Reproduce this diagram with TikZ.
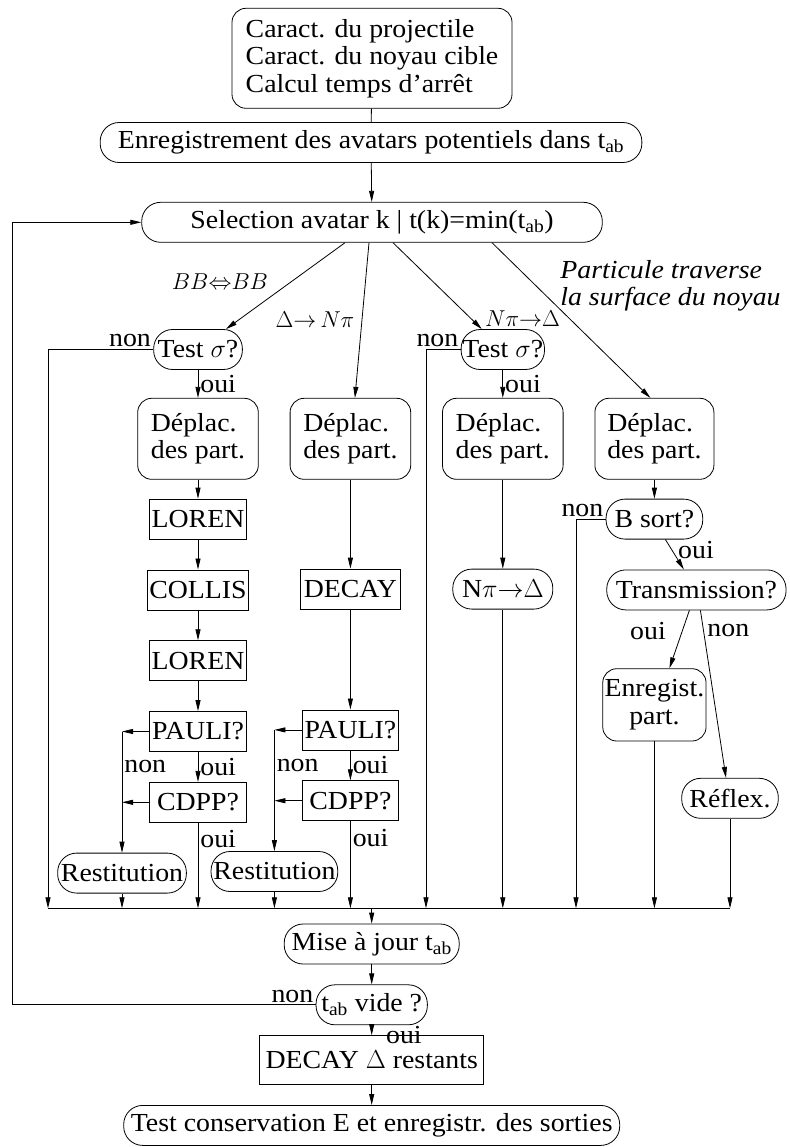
\RequirePackage{fix-cm}
\documentclass[tikz,border=0pt]{standalone}
\usepackage{fontspec}
\setmainfont{Liberation Serif}[FakeStretch=1.07]
\usetikzlibrary{arrows.meta,positioning}

\newcommand{\figfont}{\fontsize{26}{27.5}\selectfont}
\newcommand{\mathlblfont}{\fontsize{23}{27.5}\selectfont}

\tikzset{
  pill/.style={draw, rounded corners=19pt, minimum height=40pt, inner sep=0pt},
  softbox/.style={draw, rounded corners=14pt, inner sep=0pt, align=left},
  plainbox/.style={draw, minimum height=40pt, inner sep=0pt},
  lbl/.style={inner sep=2pt},
  mathlbl/.style={inner sep=2pt, font=\mathlblfont},
}

\begin{document}
\begin{tikzpicture}[x=1pt, y=1pt, node distance=30pt, >={Triangle[length=11pt,width=5pt]}, line width=0.8pt, every node/.style={font=\figfont}]
      \useasboundingbox (0,0) rectangle (789,-1147);

      % main column, top
      \node[softbox, minimum width=280pt, minimum height=100pt] (init) at (372,-58.3) {Caract. du projectile\\Caract. du noyau cible\\Calcul temps d'arrêt};
      \node[pill, minimum width=541.7pt] (enreg) at (371,-142.5) {Enregistrement des avatars potentiels dans t\textsubscript{ab}};
      \node[pill, minimum width=460.6pt] (sel) at (372,-222.3) {Selection avatar k | t(k)=min(t\textsubscript{ab})};

      % first column
      \node[softbox, minimum width=120.6pt, minimum height=81pt] (dep1) at (198,-438.8) {Déplac.\\des part.};
      \node[pill, minimum width=88.7pt] (test1) [above=28pt of dep1] {Test $\sigma$?};
      \node[plainbox, minimum width=96.7pt] (loren1) [below=19pt of dep1] {LOREN};
      \node[plainbox, minimum width=100.6pt] (collis) [below=of loren1] {COLLIS};
      \node[plainbox, minimum width=96.7pt] (loren2) [below=of collis] {LOREN};
      \node[plainbox, minimum width=96.7pt] (pauli1) [below=of loren2] {PAULI?};
      \node[plainbox, minimum width=96.7pt] (cdpp1) [below=of pauli1] {CDPP?};
      \node[pill, minimum width=128.7pt] (rest1) [below=of cdpp1, xshift=-76pt] {Restitution};

      % second column
      \node[softbox, minimum width=120.6pt, minimum height=81pt] (dep2) [right=31pt of dep1] {Déplac.\\des part.};
      \node[plainbox, minimum width=100.7pt] (decay) [below=89pt of dep2] {DECAY};
      \node[plainbox, minimum width=96.7pt] (pauli2) [below=100pt of decay] {PAULI?};
      \node[plainbox, minimum width=96.7pt] (cdpp2) [below=of pauli2] {CDPP?};
      \node[pill, minimum width=126.7pt] (rest2) [below=of cdpp2, xshift=-76pt] {Restitution};

      % third column
      \node[softbox, minimum width=120.6pt, minimum height=81pt] (dep3) [right=31pt of dep2] {Déplac.\\des part.};
      \node[pill, minimum width=83.4pt] (test2) [above=28pt of dep3] {Test $\sigma$?};
      \node[pill, minimum width=100pt] (npd) [below=89pt of dep3] {N$\pi{\rightarrow}\Delta$};

      % fourth column
      \node[softbox, minimum width=119pt, minimum height=81pt] (dep4) [right=31pt of dep3] {Déplac.\\des part.};
      \node[pill, minimum width=96.7pt] (bsort) [below=19pt of dep4] {B sort?};
      \node[pill, minimum width=179.3pt] (trans) [below=of bsort, xshift=42pt] {Transmission?};
      \node[softbox, align=center, minimum width=103.3pt, minimum height=72.3pt] (enrg) [below=58pt of trans, xshift=-42pt] {Enregist.\\part.};
      \node[pill, minimum width=96.6pt] (reflex) at (730,-798.3) {Réflex.};

      % main column, bottom
      \node[pill, minimum width=175pt] (maj) at (371.7,-944) {Mise à jour t\textsubscript{ab}};
      \node[pill, minimum width=111.3pt] (vide) [below=20pt of maj] {t\textsubscript{ab} vide ?};
      \node[plainbox, minimum width=224pt, minimum height=49pt] (decr) [below=10pt of vide] {DECAY $\Delta$ restants};
      \node[pill, minimum width=496pt] (tcons) [below=20pt of decr] {Test conservation E et enregistr. des sorties};

      % branch labels
      \node[mathlbl] (lbb) at (220,-282) {$BB{\Leftrightarrow}BB$};
      \node[mathlbl] (ldn) at (315,-320) {$\Delta{\rightarrow}\,N\pi$};
      \node[mathlbl] (lnd) at (522.5,-318.3) {$N\pi{\rightarrow}\Delta$};
      \node[lbl, anchor=west, align=left, font=\figfont\itshape] (lsurf) at (558,-286) {Particule traverse\\la surface du noyau};
      \node[lbl] (ltoui) at (696,-550) {oui};
      \node[lbl] (lteoui) at (648,-631) {oui};
      \node[lbl] (ltnon) at (728.3,-630.7) {non};

      \coordinate (back) at (12,0);
      \coordinate (busl) at (48,-908.3);
      \coordinate (drop2) at (426,-908.3);
      \coordinate (drop3) at (576,-908.3);
      \coordinate (busr) at (730,-908.3);

      \draw (init) -- (enreg);
      \draw[->] (enreg) -- (sel);
      \draw[->] ([xshift=-27pt]sel.south) -- ([xshift=28pt]test1.north);
      \draw[->] ([xshift=-3pt]sel.south) -- ([xshift=4.5pt]dep2.north);
      \draw[->] ([xshift=21pt]sel.south) -- ([xshift=-21pt]test2.north);
      \draw[->] ([xshift=120pt]sel.south) -- ([xshift=-4pt]dep4.north);

      \draw[->] (test1) -- node[lbl, right] {oui} (dep1);
      \draw[->] (dep1) -- (loren1);
      \draw[->] (loren1) -- (collis);
      \draw[->] (collis) -- (loren2);
      \draw[->] (loren2) -- (pauli1);
      \draw[->] (pauli1) -- node[lbl, right] {oui} (cdpp1);
      \draw[->] (pauli1) -- (pauli1 -| rest1);
      \draw[->] (cdpp1) -- (cdpp1 -| rest1);
      \draw[->] (pauli1 -| rest1) -- node[lbl, right, pos=0.29] {non} (rest1);

      \draw[->] (dep2) -- (decay);
      \draw[->] (decay) -- (pauli2);
      \draw[->] (pauli2) -- node[lbl, right] {oui} (cdpp2);
      \draw[->] (pauli2) -- (pauli2 -| rest2);
      \draw[->] (cdpp2) -- (cdpp2 -| rest2);
      \draw[->] (pauli2 -| rest2) -- node[lbl, right, pos=0.29] {non} (rest2);

      \draw[->] (test2) -- node[lbl, right] {oui} (dep3);
      \draw[->] (dep3) -- (npd);

      \draw[->] (dep4) -- (bsort);
      \draw[->] ([xshift=11pt]bsort.south) -- ([xshift=-12.5pt]trans.north);
      \draw[->] ([xshift=-7pt]trans.south) -- ([xshift=15pt]enrg.north);
      \draw[->] ([xshift=4pt]trans.south) -- ([xshift=-4pt]reflex.north);

      % down to the bus
      \draw[->] (test1) -| (busl) node[lbl, pos=0, above left] {non};
      \draw[->] (rest1) -- (rest1 |- busl);
      \draw[->] (cdpp1) -- node[lbl, right, pos=0.19] {oui} (cdpp1 |- busl);
      \draw[->] (rest2) -- (rest2 |- busl);
      \draw[->] (cdpp2) -- node[lbl, right, pos=0.19] {oui} (cdpp2 |- busl);
      \draw[->] (test2) -| (drop2) node[lbl, pos=0, above left] {non};
      \draw[->] (npd) -- (npd |- busl);
      \draw[->] (bsort) -| (drop3) node[lbl, pos=0, above left] {non};
      \draw[->] (enrg) -- (enrg |- busl);
      \draw[->] (reflex) -- (busr);
      \draw (busl) -- (busr);

      \draw[->] (maj |- busl) -- (maj);
      \draw[->] (maj) -- (vide);
      \draw[->] (vide) -- node[lbl, right=12pt, pos=1] {oui} (decr);
      \draw[->] (decr) -- (tcons);
      \draw[->] (vide) -- (vide -| back) node[lbl, pos=0, above left] {non} |- (sel);
    \end{tikzpicture}
\end{document}
